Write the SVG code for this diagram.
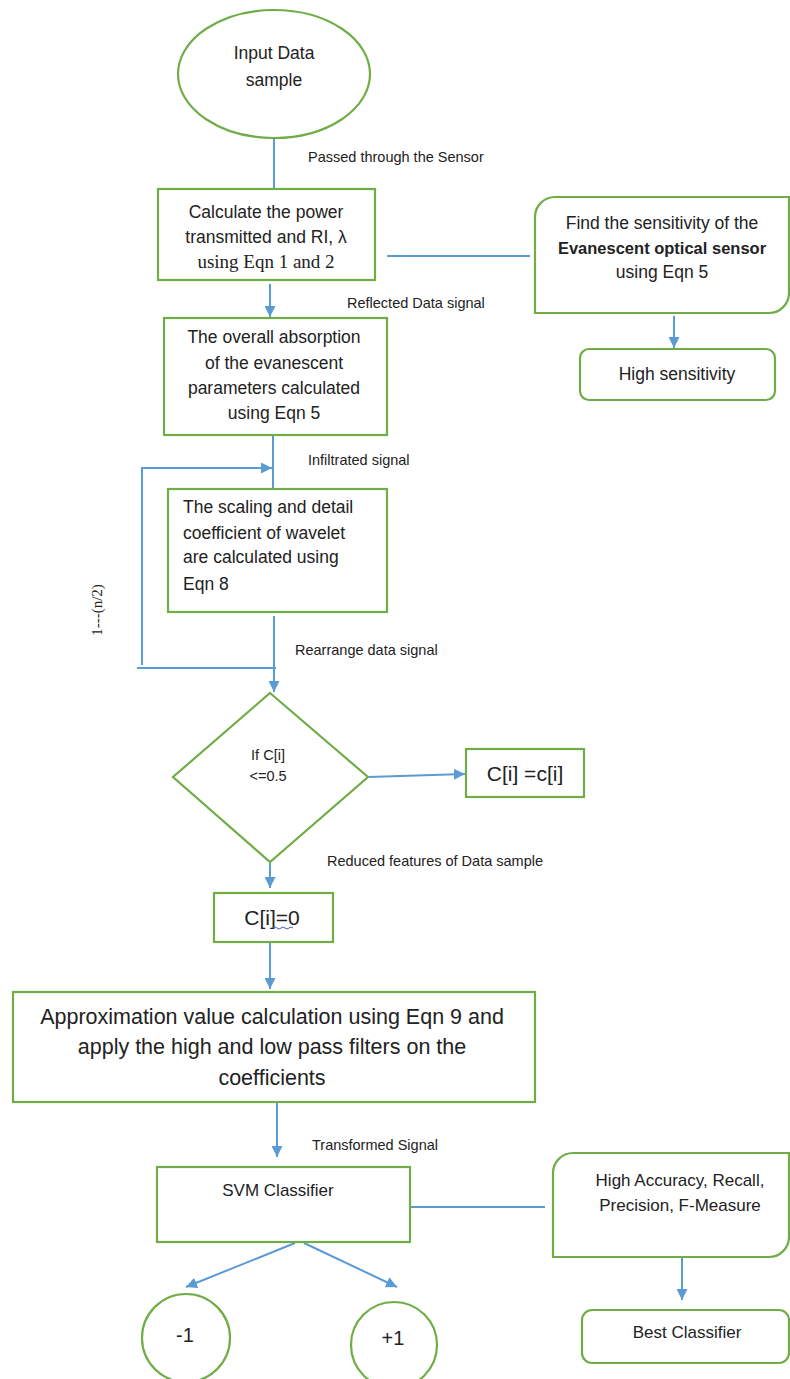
<svg xmlns="http://www.w3.org/2000/svg" width="790" height="1379" viewBox="0 0 790 1379">
<defs>
<style>
.n{fill:#fff;stroke:#70AD47;stroke-width:2.2}
.c{fill:none;stroke:#5B9BD5;stroke-width:2}
.t{font-family:"Liberation Sans",Arial,sans-serif;font-size:17.5px;fill:#222;text-anchor:middle}
.l{font-family:"Liberation Sans",Arial,sans-serif;font-size:14.5px;fill:#222}
.s{font-family:"Liberation Serif","Times New Roman",serif;fill:#222}
</style>
<marker id="ah" viewBox="0 0 10 10" refX="10" refY="5" markerWidth="5.5" markerHeight="5.5" orient="auto" markerUnits="strokeWidth">
<path d="M0,0 L10,5 L0,10 Z" fill="#5B9BD5"/>
</marker>
</defs>
<rect width="790" height="1379" fill="#fff"/>

<g id="connectors">
<line class="c" x1="274" y1="139" x2="274" y2="189"/>
<line class="c" x1="387" y1="256" x2="530" y2="256"/>
<line class="c" x1="270" y1="284" x2="270" y2="317" marker-end="url(#ah)"/>
<line class="c" x1="674" y1="316" x2="674" y2="348" marker-end="url(#ah)"/>
<line class="c" x1="273" y1="436" x2="273" y2="504" marker-end="url(#ah)"/>
<path class="c" d="M142,665 V468 H272" marker-end="url(#ah)"/>
<line class="c" x1="274" y1="616" x2="274" y2="692" marker-end="url(#ah)"/>
<line class="c" x1="137" y1="668" x2="276" y2="668"/>
<line class="c" x1="368" y1="777" x2="465" y2="774" marker-end="url(#ah)"/>
<line class="c" x1="270" y1="863" x2="270" y2="888" marker-end="url(#ah)"/>
<line class="c" x1="270" y1="943" x2="270" y2="989" marker-end="url(#ah)"/>
<line class="c" x1="277" y1="1103" x2="277" y2="1157" marker-end="url(#ah)"/>
<line class="c" x1="410" y1="1207" x2="545" y2="1207"/>
<line class="c" x1="295" y1="1243" x2="186" y2="1287" marker-end="url(#ah)"/>
<line class="c" x1="304" y1="1243" x2="397" y2="1287" marker-end="url(#ah)"/>
<line class="c" x1="682" y1="1252" x2="682" y2="1300" marker-end="url(#ah)"/>
</g>

<g id="input">
<ellipse class="n" cx="274" cy="74" rx="96" ry="64"/>
<text class="t" x="274" y="59">Input Data</text>
<text class="t" x="274" y="86">sample</text>
</g>

<g id="calc-power">
<rect class="n" x="158" y="189" width="217" height="91"/>
<text class="t" x="266" y="218">Calculate the power</text>
<text class="t" x="266" y="243">transmitted and RI, λ</text>
<text class="s" x="266" y="268" style="font-size:19px;text-anchor:middle">using Eqn 1 and 2</text>
</g>

<g id="sensitivity">
<path class="n" d="M555,197 H789 V293 A20,20 0 0 1 769,313 H535 V217 A20,20 0 0 1 555,197 Z"/>
<text class="t" x="662" y="229">Find the sensitivity of the</text>
<text class="t" x="662" y="254" style="font-weight:bold;font-size:16.5px">Evanescent optical sensor</text>
<text class="t" x="662" y="278">using Eqn 5</text>
</g>

<g id="high-sensitivity">
<rect class="n" x="580" y="349" width="195" height="51" rx="9"/>
<text class="t" x="677" y="380">High sensitivity</text>
</g>

<g id="absorption">
<rect class="n" x="164" y="318" width="223" height="117"/>
<text class="t" x="274" y="343">The overall absorption</text>
<text class="t" x="274" y="369">of the evanescent</text>
<text class="t" x="274" y="394">parameters calculated</text>
<text class="t" x="274" y="419">using Eqn 5</text>
</g>

<g id="wavelet">
<rect class="n" x="168" y="489" width="219" height="123"/>
<text class="t" x="183" y="513" style="text-anchor:start">The scaling and detail</text>
<text class="t" x="183" y="539" style="text-anchor:start">coefficient of wavelet</text>
<text class="t" x="183" y="563" style="text-anchor:start">are calculated using</text>
<text class="t" x="183" y="590" style="text-anchor:start">Eqn 8</text>
</g>

<g id="decision">
<polygon class="n" points="270,693 368,777 270,862 173,777"/>
<text class="t" x="268" y="760" style="font-size:14.5px">If C[i]</text>
<text class="t" x="268" y="781" style="font-size:14.5px">&lt;=0.5</text>
</g>

<g id="keep">
<rect class="n" x="466" y="749" width="118" height="48"/>
<text class="t" x="525" y="781" style="font-size:21px">C[i] =c[i]</text>
</g>

<g id="zero">
<rect class="n" x="214" y="893" width="119" height="49"/>
<text class="t" x="272" y="925" style="font-size:21px">C[i]=0</text>
<path d="M273,928 q2,-2 4,0 t4,0 t4,0 t4,0 t4,0" fill="none" stroke="#4060c0" stroke-width="1"/>
</g>

<g id="approximation">
<rect class="n" x="13" y="992" width="522" height="110"/>
<text class="t" x="272" y="1024" style="font-size:21.5px">Approximation value calculation using Eqn 9 and</text>
<text class="t" x="272" y="1054" style="font-size:21.5px">apply the high and low pass filters on the</text>
<text class="t" x="272" y="1085" style="font-size:21.5px">coefficients</text>
</g>

<g id="svm">
<rect class="n" x="157" y="1167" width="253" height="75"/>
<text class="t" x="278" y="1196" style="font-size:17px">SVM Classifier</text>
</g>

<g id="metrics">
<path class="n" d="M573,1153 H789 V1237 A20,20 0 0 1 769,1257 H553 V1173 A20,20 0 0 1 573,1153 Z"/>
<text class="t" x="680" y="1186" style="font-size:17px">High Accuracy, Recall,</text>
<text class="t" x="680" y="1211" style="font-size:17px">Precision, F-Measure</text>
</g>

<g id="best">
<rect class="n" x="582" y="1310" width="207" height="53" rx="10"/>
<text class="t" x="687" y="1338" style="font-size:17px">Best Classifier</text>
</g>

<g id="minus-one">
<circle class="n" cx="186" cy="1338" r="44"/>
<text class="t" x="185" y="1342" style="font-size:20px">-1</text>
</g>

<g id="plus-one">
<circle class="n" cx="394" cy="1345" r="43"/>
<text class="t" x="393" y="1345" style="font-size:20px">+1</text>
</g>

<g id="labels">
<text class="l" x="308" y="162">Passed through the Sensor</text>
<text class="l" x="347" y="308">Reflected Data signal</text>
<text class="l" x="308" y="465">Infiltrated signal</text>
<text class="l" x="295" y="655">Rearrange data signal</text>
<text class="l" x="327" y="866">Reduced features of Data sample</text>
<text class="l" x="312" y="1150">Transformed Signal</text>
<text class="s" x="0" y="0" style="font-size:15px;text-anchor:middle" transform="translate(102,610) rotate(-90)">1---(n/2)</text>
</g>
</svg>
